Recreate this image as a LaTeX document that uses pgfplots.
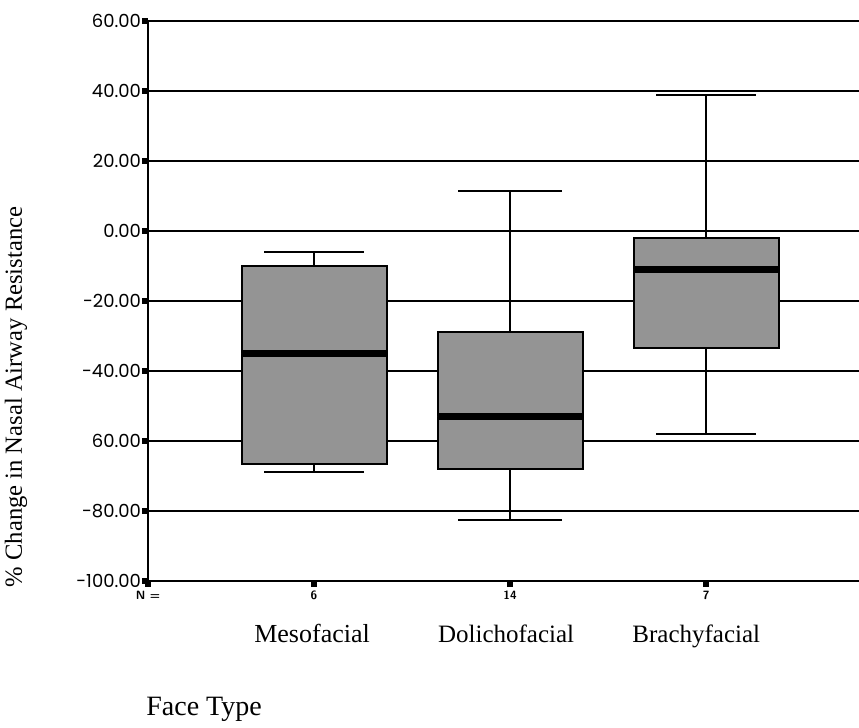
\documentclass[border=0pt]{standalone}
\usepackage{fontspec}
\setmainfont{Liberation Serif}
\newfontfamily\tickfont{Poppins}
\usepackage{pgfplots}
\pgfplotsset{compat=1.18}
\usepgfplotslibrary{statistics}
\definecolor{boxgray}{RGB}{148,148,148}
\begin{document}
\begin{tikzpicture}
\path[use as bounding box] (-74pt,-73.5pt) rectangle (355.5pt,290.5pt);
\begin{axis}[
  at={(0,0)}, anchor=south west,
  scale only axis, width=355.5pt, height=280pt,
  xmin=0.153, xmax=3.78, ymin=-100, ymax=60,
  axis x line=bottom, axis y line=left,
  axis line style={-, line width=1pt, black},
  clip=false,
  ytick={-100,-80,-60,-40,-20,0,20,40,60},
  yticklabels={-100.00,-80.00,60.00,-40.00,-20.00,0.00,20.00,40.00,60.00},
  yticklabel style={font=\tickfont\fontsize{9}{10}\selectfont, inner sep=0.3pt},
  xtick={0.153,1,2,3},
  xticklabels={N =,6,14,7},
  xticklabel style={font=\sffamily\bfseries\fontsize{6}{7}\selectfont, inner sep=1pt, yshift=-1pt},
  tick align=outside,
  major tick length=3pt,
  tick style={line width=3pt, black},
  ymajorgrids, xmajorgrids=false,
  major grid style={line width=0.8pt, black},
  boxplot/draw direction=y,
  boxplot/every median/.style={line width=3.5pt},
]
\addplot[boxplot prepared={draw position=1, lower whisker=-69, lower quartile=-66.6, median=-34.9, upper quartile=-9.9, upper whisker=-5.9, box extend=0.74, whisker extend=0.51}, draw=black, line width=1pt, fill=boxgray] coordinates {};
\addplot[boxplot prepared={draw position=2, lower whisker=-82.6, lower quartile=-68.1, median=-53, upper quartile=-28.8, upper whisker=11.4, box extend=0.74, whisker extend=0.53}, draw=black, line width=1pt, fill=boxgray] coordinates {};
\addplot[boxplot prepared={draw position=3, lower whisker=-58.1, lower quartile=-33.3, median=-10.9, upper quartile=-2.1, upper whisker=38.9, box extend=0.74, whisker extend=0.51}, draw=black, line width=1pt, fill=boxgray] coordinates {};
\node[anchor=base, font=\fontsize{13}{14}\selectfont] at (axis cs:0.99,-100) [yshift=-31pt] {Mesofacial};
\node[anchor=base, font=\fontsize{12.5}{14}\selectfont] at (axis cs:1.98,-100) [yshift=-31pt] {Dolichofacial};
\node[anchor=base, font=\fontsize{12.5}{14}\selectfont] at (axis cs:2.95,-100) [yshift=-31pt] {Brachyfacial};
\end{axis}
\node[rotate=90, font=\fontsize{12.3}{14}\selectfont] at (-66pt,92pt) {\% Change in Nasal Airway Resistance};
\node[anchor=base west, font=\fontsize{14}{16}\selectfont, inner sep=0pt] at (-1pt,-67.5pt) {Face Type};
\end{tikzpicture}
\end{document}
